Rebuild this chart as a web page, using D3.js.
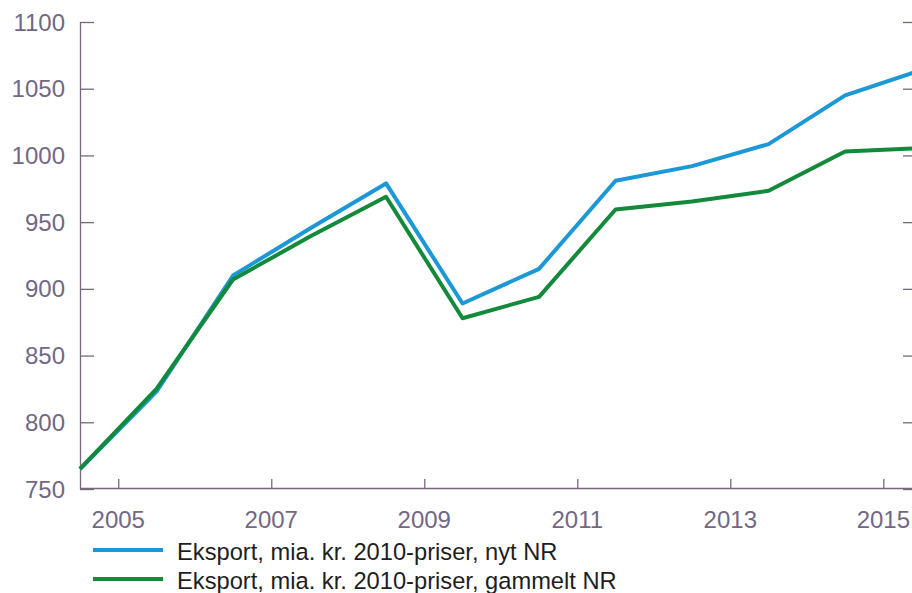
<!DOCTYPE html>
<html>
<head>
<meta charset="utf-8">
<script src="https://cdn.jsdelivr.net/npm/d3@7"></script>
<style>
  body { margin: 0; background: #fff; }
  svg { display: block; font-family: "Liberation Sans", Arial, sans-serif; }
</style>
</head>
<body>
<div id="chart"></div>
<script>
// data, annual values plotted at mid-year
var years = [2004, 2005, 2006, 2007, 2008, 2009, 2010, 2011, 2012, 2013, 2014, 2015]
var nytNR = [765, 823, 910, 945, 979, 889, 915, 981, 992, 1008.5, 1045, 1064]
var gammeltNR = [765, 825, 907, 939, 969, 878, 894, 959.5, 965.5, 973.5, 1003, 1005.5]
var xTicks = [2005, 2007, 2009, 2011, 2013, 2015]
var yTicks = [750, 800, 850, 900, 950, 1000, 1050, 1100]
var seriesNames = ["Eksport, mia. kr. 2010-priser, nyt NR", "Eksport, mia. kr. 2010-priser, gammelt NR"]
var seriesColors = ["#1b98d5", "#13893b"]

var W = 912, H = 593
var margin = {top: 22, right: -5, bottom: 104, left: 80}
var width = W - margin.left - margin.right,
    height = H - margin.top - margin.bottom

var axisColor = "#76697c"
var labelColor = "#736883"

var svg = d3.select("#chart")
  .append("svg")
    .attr("width", W)
    .attr("height", H)

var g = svg.append("g")
    .attr("transform", "translate(" + margin.left + "," + margin.top + ")")

var x = d3.scaleLinear()
  .domain([2004.5, 2015.44])
  .range([0, width])

var y = d3.scaleLinear()
  .domain([750, 1100])
  .range([height, 0])

// left axis, ticks pointing inwards
var yAxis = g.append("g")
  .call(d3.axisRight(y).tickValues(yTicks).tickSize(14).tickFormat(""))
yAxis.selectAll("line, path").attr("stroke", axisColor).attr("stroke-width", 1.3)
yAxis.select(".domain").attr("d", "M0.5," + height + "V0")

// right axis (mostly off-canvas)
var yAxisR = g.append("g")
  .attr("transform", "translate(" + width + ",0)")
  .call(d3.axisLeft(y).tickValues(yTicks).tickSize(14).tickFormat(""))
yAxisR.selectAll("line, path").attr("stroke", axisColor).attr("stroke-width", 1.3)
yAxisR.select(".domain").attr("d", "M-0.5," + height + "V0")

// y labels
g.selectAll(".ylab")
  .data(yTicks)
  .enter()
  .append("text")
    .attr("class", "ylab")
    .attr("x", -15)
    .attr("y", function(d) { return y(d) })
    .attr("dy", "0.36em")
    .attr("text-anchor", "end")
    .style("font-size", "24px")
    .style("fill", labelColor)
    .text(function(d) { return d })

// bottom axis, ticks pointing up
var xAxis = g.append("g")
  .attr("transform", "translate(0," + height + ")")
  .call(d3.axisTop(x).tickValues(xTicks).tickSize(10).tickFormat(""))
xAxis.selectAll("line, path").attr("stroke", axisColor).attr("stroke-width", 1.3)
xAxis.select(".domain").attr("d", "M0,-0.5H" + width)

g.selectAll(".xlab")
  .data(xTicks)
  .enter()
  .append("text")
    .attr("class", "xlab")
    .attr("x", function(d) { return x(d) })
    .attr("y", height + 39)
    .attr("text-anchor", "middle")
    .style("font-size", "24px")
    .style("fill", labelColor)
    .text(function(d) { return d })

// lines
var line = d3.line()
  .x(function(d) { return x(d[0] + 0.5) })
  .y(function(d) { return y(d[1]) })

var series = [nytNR, gammeltNR]
series.forEach(function(vals, i) {
  g.append("path")
    .datum(years.map(function(yr, j) { return [yr, vals[j]] }))
    .attr("fill", "none")
    .attr("stroke", seriesColors[i])
    .attr("stroke-width", 4)
    .attr("stroke-linejoin", "round")
    .attr("d", line)
})

// legend
var legend = svg.append("g")
  .attr("transform", "translate(93,550)")
seriesNames.forEach(function(name, i) {
  var row = legend.append("g").attr("transform", "translate(0," + (i * 29) + ")")
  row.append("line")
    .attr("x1", 0).attr("x2", 70)
    .attr("y1", 0).attr("y2", 0)
    .attr("stroke", seriesColors[i])
    .attr("stroke-width", 4)
  row.append("text")
    .attr("x", 84)
    .attr("y", 10)
    .style("font-size", "23.7px")
    .style("fill", "#1e1e1e")
    .text(name)
})
</script>
</body>
</html>
